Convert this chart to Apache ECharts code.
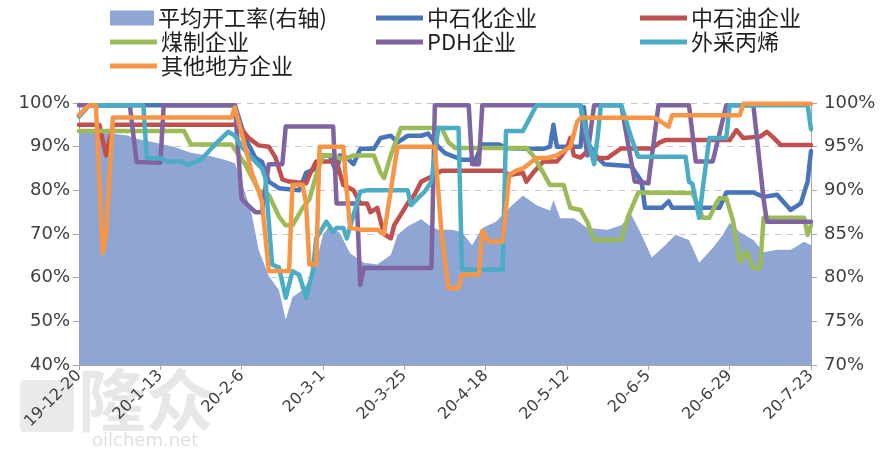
<!DOCTYPE html>
<html>
<head>
<meta charset="utf-8">
<script src="https://cdn.jsdelivr.net/npm/echarts@6/dist/echarts.min.js"></script>
<style>
  html, body { margin: 0; padding: 0; background: #fff; }
  #chart { width: 884px; height: 457px; }
</style>
</head>
<body>
<div id="chart"></div>
<script>
// x values are day offsets counted from 2019-12-20 (0 .. 216)
const tickLabels = ['19-12-20', '20-1-13', '20-2-6', '20-3-1', '20-3-25', '20-4-18', '20-5-12', '20-6-5', '20-6-29', '20-7-23'];

const seriesNames = ['平均开工率(右轴)', '中石化企业', '中石油企业', '煤制企业', 'PDH企业', '外采丙烯', '其他地方企业'];

// 平均开工率 (right axis, %)
const avgRate = [
  [0,96.6],[7,96.6],[14,96.3],[17,95.9],[22,95.5],[28,95.0],[33,94.3],[38,94.0],[43,93.5],[46,93.1],
  [48,91.0],[51,87.2],[53,83.2],[56,80.2],[59,78.6],[61,75.2],[63,77.8],[66,78.6],[69,80.3],[72,84.9],
  [74,86.0],[77,85.1],[80,82.8],[84,81.7],[88,81.5],[92,82.6],[94,84.9],[97,85.9],[101,86.7],[103,86.1],
  [106,85.5],[110,85.5],[113,85.2],[116,83.7],[119,85.7],[123,86.4],[127,88.0],[131,89.4],[135,88.3],[139,87.7],
  [140,88.9],[142,86.8],[146,86.8],[150,85.7],[156,85.5],[160,86.0],[163,87.2],[166,84.9],[169,82.3],[173,83.7],
  [176,84.9],[180,84.3],[183,81.7],[187,83.4],[190,84.9],[192,86.3],[195,85.2],[199,84.3],[202,82.9],[206,83.2],
  [210,83.2],[214,84.1],[216,83.7]
];

// 中石化企业 (%)
const sinopec = [
  [0,97],[3,99.5],[46,99.5],[49,92],[52,87.5],[54,86.5],[56,82],[59,80.5],[65,80],[67,84],[70,85],[72,88],
  [74,88],[76,84],[77,88],[79,87.5],[81,86],[83,89.5],[87,89.5],[89,92],[92,92.5],[94,91],[97,92.5],[101,92.5],
  [103,93],[106,90],[108,88.5],[113,87],[117,87],[119,90.5],[124,90.5],[126,89.7],[132,89.5],[137,89.5],[139,90],
  [140,95],[141,90],[148,90],[149,99],[150,91],[153,87.5],[155,86],[163,85.5],[166,82],[167,76],[172,76],
  [174,77.5],[175,76],[189,76],[191,79.5],[199,79.5],[202,78.5],[206,79],[210,75.5],[213,77],[215,82],[216,89]
];

// 中石油企业 (%)
const petrochina = [
  [0,95],[6,95],[8,88],[10,95],[47,95],[50,92],[53,90.3],[56,90],[58,87.5],[60,82.5],[62,82],[67,81.6],
  [68,83.5],[70,86.6],[76,86.6],[78,81.2],[81,80],[83,77],[85,77],[86,75],[88,76],[90,70],[92,69],[93,72],
  [95,74.5],[97,77],[99,79],[101,82],[105,83.5],[107,84.5],[125,84.5],[127,83.5],[131,84],[132,82],[134,84],
  [137,86.6],[141,86.6],[142,87.5],[144,89.7],[145,92],[146,88],[148,87.5],[150,89],[152,87.4],[156,87.4],
  [157,88],[160,89.6],[169,89.6],[171,90.8],[173,91.5],[192,91.5],[194,93.8],[196,92],[201,92.3],[203,93.4],
  [205,92],[207,90.4],[216,90.4]
];

// 煤制企业 (%)
const coalBased = [
  [0,93.6],[31,93.6],[33,90.5],[45,90.5],[49,86],[53,80],[56,79],[59,74],[61,72],[63,72],[66,76],[68,78],
  [70,83.5],[72,88],[75,88],[78,87],[81,88],[87,88],[89,84],[90,82.8],[92,88],[95,94.3],[107,94.3],[109,91],
  [111,89.7],[132,89.7],[134,88],[137,84],[139,81.2],[143,81.2],[145,76],[148,75.5],[150,72.8],[152,68.6],
  [160,68.6],[162,74],[165,79.5],[181,79.4],[183,76],[184,73.7],[186,73.7],[188,77],[189,78.2],[191,78.2],
  [193,73],[195,63.7],[197,66],[199,62.2],[201,62.2],[202,73.7],[214,73.7],[215,69.8],[216,72]
];

// PDH企业 (%)
const pdh = [
  [0,99.5],[15,99.5],[17,86.5],[24,86.3],[25,99.5],[46,99.5],[48,78],[52,75],[54,75],[56,86],[60,86],
  [61,94.6],[75,94.6],[76,77],[82,77],[83,58.3],[84,62.2],[104,62.2],[105,99.5],[115,99.5],[116,86],[118,86],
  [119,99.5],[148,99.5],[150,88],[152,99.5],[160,99.5],[164,82],[168,81.6],[171,99.5],[180,99.5],[182,86.6],
  [187,86.6],[191,99.5],[199,99.5],[202,78],[203,72.8],[216,72.8]
];

// 外采丙烯 (%)
const boughtPropylene = [
  [0,97],[3,99.5],[19,99.5],[20,87.4],[24,87.4],[26,86.6],[30,86.6],[32,85.8],[36,87],[40,90.4],[44,93.4],
  [46,92.5],[48,90],[52,86.6],[54,85],[55,82.8],[57,63],[59,62.3],[61,55.4],[63,61.5],[65,60.6],[67,55.4],
  [69,61.5],[70,69],[73,72.8],[75,70.5],[76,71.4],[78,71.4],[79,69],[81,74.4],[83,79.7],[85,80],[97,80],
  [98,76.6],[100,78.2],[102,79.7],[104,82],[106,94.3],[112,94.3],[113,62],[115,61.8],[125,61.8],[126,93.6],
  [131,93.6],[135,99.5],[148,99.5],[150,92],[152,86],[153,92],[154,99.5],[160,99.5],[163,92],[165,87.7],
  [179,87.7],[180,82],[181,81.5],[183,73.7],[184,80],[186,92],[191,92],[192,99.5],[215,99.5],[216,94]
];

// 其他地方企业 (%)
const otherLocal = [
  [0,97.3],[3,99.5],[5,99.5],[7,65.6],[8,70],[10,96.7],[45,96.7],[46,99],[48,93],[51,84],[53,79.8],[54,77.4],
  [56,61.5],[62,61.5],[63,81.3],[66,81.3],[67,77],[68,63],[70,63],[71,90],[78,90],[79,80],[80,71.4],[83,71],
  [88,71],[90,70],[92,80],[94,90],[105,90],[107,70],[109,57.6],[112,57.6],[113,60.7],[118,60.7],[119,70.7],
  [121,68.3],[125,68.3],[127,83.6],[129,84.5],[131,85],[135,87.4],[138,87.4],[141,88],[143,89],[145,90],
  [147,95.7],[148,96.6],[170,96.6],[174,94.6],[175,97.2],[195,97.2],[196,99.8],[216,99.8]
];

const colors = ['#8fa5d3', '#4874ba', '#c0504d', '#9bbb59', '#8064a2', '#4bacc6', '#f79646'];
const lineData = [sinopec, petrochina, coalBased, pdh, boughtPropylene, otherLocal];

const chart = echarts.init(document.getElementById('chart'));

const axisFont = { fontFamily: 'DejaVu Sans', color: '#404040' };

// legend items laid out in a 3-column grid
const legendSlots = [
  [110, 7], [376, 7], [640, 7],
  [110, 31], [376, 31], [640, 31],
  [110, 55]
];
const legends = seriesNames.map((name, i) => ({
  data: [name],
  left: legendSlots[i][0],
  top: legendSlots[i][1],
  padding: 0,
  icon: 'rect',
  itemWidth: i === 0 ? 44 : 47,
  itemHeight: i === 0 ? 15 : 5,
  selectedMode: false,
  textStyle: { fontFamily: 'Noto Sans CJK SC', fontSize: 22, color: '#1e1e1e', padding: [0, 0, 0, -1] }
}));

const series = [{
  name: seriesNames[0],
  type: 'line',
  yAxisIndex: 1,
  data: avgRate,
  showSymbol: false,
  symbol: 'none',
  lineStyle: { width: 0 },
  areaStyle: { color: colors[0], opacity: 1 },
  itemStyle: { color: colors[0] },
  z: 1
}].concat(lineData.map((d, i) => ({
  name: seriesNames[i + 1],
  type: 'line',
  yAxisIndex: 0,
  data: d,
  showSymbol: false,
  symbol: 'none',
  lineStyle: { width: 4.5, color: colors[i + 1], join: 'round', cap: 'round' },
  itemStyle: { color: colors[i + 1] },
  z: 2 + i
})));

chart.setOption({
  animation: false,
  color: colors,
  legend: legends,
  grid: { left: 79, right: 73, top: 103, bottom: 92 },
  xAxis: {
    type: 'value',
    min: 0,
    max: 216,
    interval: 24,
    axisLine: { show: true, lineStyle: { color: '#a6a6a6', width: 1 } },
    axisTick: { show: true, length: 5, lineStyle: { color: '#a6a6a6' } },
    splitLine: { show: false },
    axisLabel: Object.assign({
      rotate: 45,
      fontSize: 16,
      margin: 8,
      formatter: v => tickLabels[Math.round(v / 24)] || ''
    }, axisFont)
  },
  yAxis: [{
    type: 'value',
    min: 40,
    max: 100,
    interval: 10,
    axisLine: { show: true, lineStyle: { color: '#a6a6a6' } },
    axisTick: { show: true, length: 6, lineStyle: { color: '#a6a6a6' } },
    splitLine: { show: true, lineStyle: { color: '#c6c6c6', type: [6, 6], width: 1 } },
    axisLabel: Object.assign({ fontSize: 18, margin: 9, formatter: '{value}%' }, axisFont)
  }, {
    type: 'value',
    min: 70,
    max: 100,
    interval: 5,
    position: 'right',
    axisLine: { show: true, lineStyle: { color: '#a6a6a6' } },
    axisTick: { show: true, length: 6, lineStyle: { color: '#a6a6a6' } },
    splitLine: { show: false },
    axisLabel: Object.assign({ fontSize: 18, margin: 13, formatter: '{value}%' }, axisFont)
  }],
  graphic: [
    {
      type: 'rect',
      left: 20, top: 380,
      shape: { width: 54, height: 52, r: 4 },
      style: { fill: 'rgba(170,170,170,0.25)' },
      z: 0
    },
    {
      type: 'text',
      left: 78, top: 366,
      style: { text: '隆众', font: 'bold 68px "Noto Sans CJK SC"', fill: 'rgba(170,170,170,0.28)' },
      z: 0
    },
    {
      type: 'text',
      left: 92, top: 432,
      style: { text: 'oilchem.net', font: '18px "DejaVu Sans"', fill: 'rgba(170,170,170,0.38)' },
      z: 0
    }
  ],
  series: series
});
</script>
</body>
</html>
